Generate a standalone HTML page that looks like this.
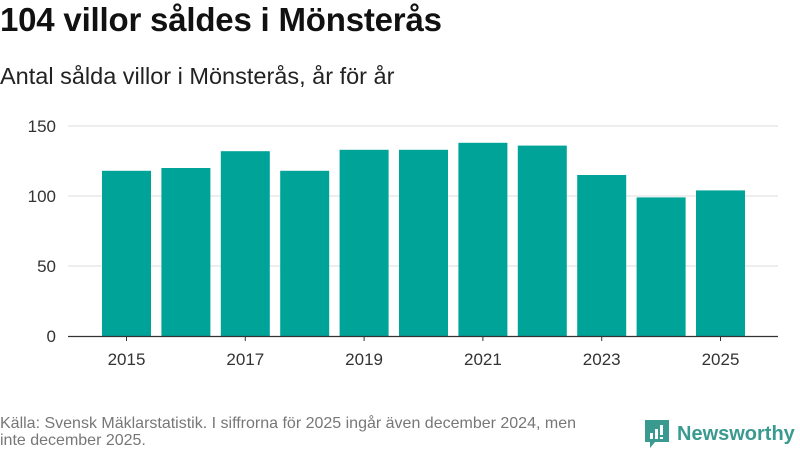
<!DOCTYPE html>
<html><head><meta charset="utf-8">
<style>
body{margin:0;width:800px;height:450px;background:#fff;font-family:"Liberation Sans",sans-serif;overflow:hidden;position:relative}
#title{position:absolute;left:0;top:1px;font-size:33px;font-weight:bold;color:#111;letter-spacing:-0.2px}
#sub{position:absolute;left:0;top:63px;font-size:23.5px;color:#222}
#src{position:absolute;left:0;top:415px;font-size:16px;color:#777;line-height:17px;width:590px}
#logo{position:absolute;left:645px;top:420px;display:flex;align-items:center}
#logo span{font-size:20px;color:#3a9a8f;font-weight:bold;margin-left:8px}
svg text{font-family:"Liberation Sans",sans-serif;fill:#333}
</style></head><body>
<div id="title">104 villor såldes i Mönsterås</div>
<div id="sub">Antal sålda villor i Mönsterås, år för år</div>
<svg id="chart" width="800" height="400" style="position:absolute;left:0;top:0"></svg>
<div id="src">Källa: Svensk Mäklarstatistik. I siffrorna för 2025 ingår även december 2024, men inte december 2025.</div>
<div id="logo">
<svg width="24" height="28" viewBox="0 0 24 28"><path d="M0 0H24V22H10L5 28V22H0Z" fill="#3a9a8f"/><rect x="5" y="13" width="3" height="6" fill="#fff"/><rect x="10" y="9" width="3" height="10" fill="#fff"/><rect x="15" y="5" width="3" height="10" fill="#fff"/><rect x="15" y="17" width="3" height="2" fill="#fff"/></svg>
<span>Newsworthy</span></div>
<script>
const years=[2015,2016,2017,2018,2019,2020,2021,2022,2023,2024,2025];
const values=[118,120,132,118,133,133,138,136,115,99,104];
const yTicks=[0,50,100,150];
const svg=document.getElementById('chart');
const NS='http://www.w3.org/2000/svg';
const ax0=68,ax1=778,y0=336,yMax=150,yTop=126;
const pitch=59.4,bw=49,firstX=102;
function X(i){return firstX+pitch*i;}
function Y(v){return y0-(v/yMax)*(y0-yTop);}
function mk(t,a){const e=document.createElementNS(NS,t);for(const k in a)e.setAttribute(k,a[k]);svg.appendChild(e);return e;}
yTicks.forEach(v=>{
 if(v>0){const l=mk('line',{x1:ax0,x2:ax1,y1:Y(v),y2:Y(v),stroke:'#ddd','stroke-width':1});
 
 }
 const t=mk('text',{x:56,y:Y(v)+6,'text-anchor':'end','font-size':'17'});t.textContent=v;
 
 
});
years.forEach((yr,i)=>{
 const r=mk('rect',{x:X(i),y:Y(values[i]),width:bw,height:y0-Y(values[i]),fill:'#00a398'});
 
 
 if(i%2===0){
  const cx=X(i)+bw/2;
  const tk=mk('line',{x1:cx,x2:cx,y1:y0,y2:y0+5,stroke:'#333'});
  
  
  const t=mk('text',{x:cx,y:y0+29,'text-anchor':'middle','font-size':'17'});t.textContent=yr;
  
  
 }
});
const ax=mk('line',{x1:ax0,x2:ax1,y1:y0+0.5,y2:y0+0.5,stroke:'#333','stroke-width':1.2});


</script>
</body></html>
